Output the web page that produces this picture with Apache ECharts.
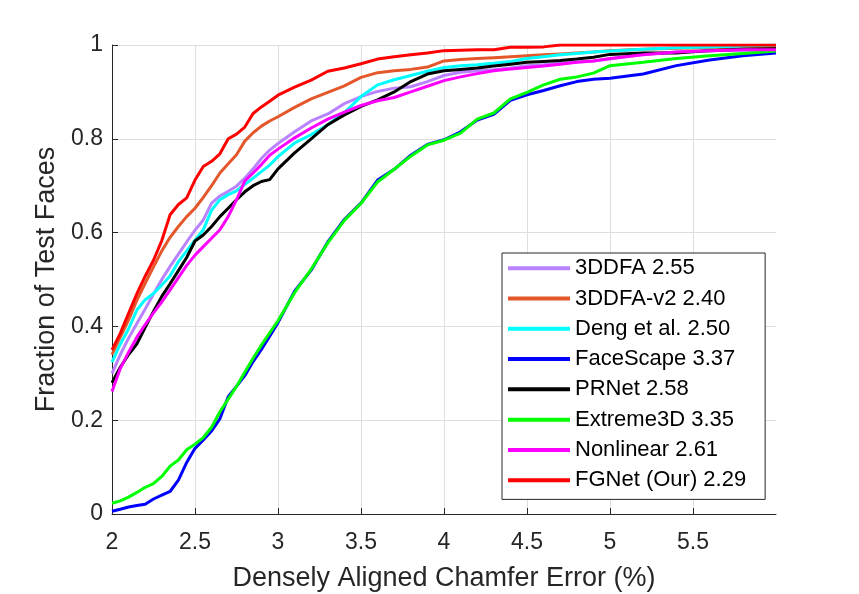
<!DOCTYPE html>
<html>
<head>
<meta charset="utf-8">
<script src="https://cdn.jsdelivr.net/npm/echarts@6/dist/echarts.min.js"></script>
<style>html,body{margin:0;padding:0;background:#fff;}#chart{width:859px;height:594px;}</style>
</head>
<body>
<div id="chart"></div>
<script>
const xs = [2.0, 2.05, 2.1, 2.15, 2.2, 2.25, 2.3, 2.35, 2.4, 2.45, 2.5, 2.55, 2.6, 2.65, 2.7, 2.75, 2.8, 2.85, 2.9, 2.95, 3.0, 3.1, 3.2, 3.3, 3.4, 3.5, 3.6, 3.7, 3.8, 3.9, 4.0, 4.1, 4.2, 4.3, 4.4, 4.5, 4.6, 4.7, 4.8, 4.9, 5.0, 5.2, 5.4, 5.6, 5.8, 6.0];

const names = ['3DDFA 2.55', '3DDFA-v2 2.40', 'Deng et al. 2.50', 'FaceScape 3.37', 'PRNet 2.58', 'Extreme3D 3.35', 'Nonlinear 2.61', 'FGNet (Our) 2.29'];
const colors = ['#b983ff', '#e4572a', '#00ffff', '#0000ff', '#000000', '#00ff00', '#ff00ff', '#ff0000'];

const y3DDFA = [0.30, 0.34, 0.375, 0.406, 0.437, 0.469, 0.50, 0.528, 0.554, 0.58, 0.605, 0.627, 0.663, 0.678, 0.688, 0.699, 0.716, 0.736, 0.758, 0.776, 0.79, 0.815, 0.838, 0.853, 0.875, 0.89, 0.901, 0.908, 0.911, 0.922, 0.935, 0.942, 0.945, 0.947, 0.951, 0.956, 0.958, 0.961, 0.964, 0.966, 0.97, 0.98, 0.985, 0.988, 0.989, 0.99];
const y3DDFAv2 = [0.34, 0.377, 0.414, 0.456, 0.492, 0.527, 0.561, 0.59, 0.613, 0.634, 0.652, 0.675, 0.70, 0.727, 0.747, 0.766, 0.795, 0.813, 0.827, 0.838, 0.847, 0.867, 0.885, 0.899, 0.913, 0.931, 0.941, 0.945, 0.948, 0.953, 0.966, 0.969, 0.971, 0.973, 0.975, 0.977, 0.979, 0.981, 0.983, 0.985, 0.988, 0.991, 0.993, 0.994, 0.995, 0.996];
const yDeng = [0.324, 0.362, 0.395, 0.435, 0.457, 0.47, 0.488, 0.508, 0.538, 0.561, 0.584, 0.606, 0.648, 0.67, 0.681, 0.689, 0.703, 0.716, 0.73, 0.744, 0.762, 0.791, 0.809, 0.83, 0.856, 0.89, 0.915, 0.926, 0.935, 0.944, 0.952, 0.956, 0.958, 0.961, 0.965, 0.971, 0.975, 0.979, 0.982, 0.985, 0.987, 0.991, 0.994, 0.996, 0.998, 1.0];
const yFaceScape = [0.006, 0.01, 0.015, 0.018, 0.021, 0.032, 0.04, 0.048, 0.072, 0.11, 0.14, 0.158, 0.177, 0.203, 0.25, 0.272, 0.295, 0.325, 0.351, 0.379, 0.408, 0.475, 0.52, 0.58, 0.628, 0.663, 0.712, 0.735, 0.765, 0.788, 0.798, 0.815, 0.84, 0.852, 0.882, 0.894, 0.903, 0.913, 0.922, 0.927, 0.929, 0.938, 0.956, 0.968, 0.977, 0.983];
const yPRNet = [0.28, 0.313, 0.34, 0.363, 0.398, 0.432, 0.464, 0.491, 0.519, 0.547, 0.582, 0.595, 0.613, 0.634, 0.652, 0.67, 0.687, 0.70, 0.709, 0.713, 0.736, 0.77, 0.80, 0.83, 0.851, 0.869, 0.883, 0.90, 0.922, 0.938, 0.945, 0.948, 0.951, 0.955, 0.959, 0.963, 0.965, 0.967, 0.97, 0.974, 0.98, 0.983, 0.983, 0.988, 0.991, 0.992];
const yExtreme3D = [0.023, 0.028, 0.036, 0.046, 0.057, 0.065, 0.08, 0.102, 0.115, 0.137, 0.149, 0.163, 0.185, 0.218, 0.245, 0.272, 0.302, 0.332, 0.36, 0.386, 0.412, 0.472, 0.522, 0.578, 0.626, 0.662, 0.708, 0.735, 0.763, 0.787, 0.797, 0.812, 0.842, 0.855, 0.885, 0.899, 0.915, 0.927, 0.932, 0.94, 0.956, 0.963, 0.971, 0.977, 0.982, 0.987];
const yNonlinear = [0.261, 0.31, 0.345, 0.377, 0.404, 0.429, 0.452, 0.478, 0.504, 0.53, 0.552, 0.57, 0.588, 0.606, 0.634, 0.67, 0.71, 0.727, 0.745, 0.765, 0.778, 0.802, 0.823, 0.842, 0.857, 0.871, 0.881, 0.888, 0.90, 0.912, 0.924, 0.932, 0.939, 0.945, 0.949, 0.952, 0.955, 0.959, 0.963, 0.966, 0.971, 0.979, 0.985, 0.988, 0.99, 0.99];
const yFGNet = [0.35, 0.385, 0.428, 0.47, 0.507, 0.541, 0.583, 0.638, 0.66, 0.674, 0.712, 0.741, 0.752, 0.768, 0.80, 0.81, 0.825, 0.854, 0.868, 0.88, 0.893, 0.91, 0.925, 0.944, 0.951, 0.96, 0.97, 0.975, 0.979, 0.983, 0.988, 0.989, 0.99, 0.99, 0.995, 0.995, 0.996, 1.0, 1.0, 1.0, 1.0, 1.0, 1.0, 1.0, 1.0, 1.0];

const allY = [y3DDFA, y3DDFAv2, yDeng, yFaceScape, yPRNet, yExtreme3D, yNonlinear, yFGNet];

const FONT = '"Liberation Sans", Arial, Helvetica, sans-serif';
const TXT = '#262626';

const chart = echarts.init(document.getElementById('chart'), null, {renderer: 'canvas'});
const series = names.map((n, i) => ({
  name: n,
  type: 'line',
  data: xs.map((x, j) => [x, allY[i][j]]),
  showSymbol: false,
  symbol: 'none',
  lineStyle: {width: 3, color: colors[i]},
  itemStyle: {color: colors[i]},
  emphasis: {disabled: true},
  animation: false,
  z: 2 + i
}));

chart.setOption({
  animation: false,
  backgroundColor: '#ffffff',
  grid: {left: 112, right: 83, top: 45, bottom: 80, outerBoundsMode: 'none', containLabel: false},
  legend: {
    orient: 'vertical',
    left: 502,
    top: 253,
    data: names,
    icon: 'rect',
    itemWidth: 62,
    itemHeight: 4,
    itemGap: 8,
    padding: [4, 19, 8, 6],
    borderColor: '#262626',
    borderWidth: 1,
    backgroundColor: '#ffffff',
    textStyle: {fontFamily: FONT, fontSize: 22, color: '#000', lineHeight: 22.3},
    selectedMode: false
  },
  xAxis: {
    type: 'value',
    min: 2, max: 6, interval: 0.5,
    name: 'Densely Aligned Chamfer Error (%)',
    nameLocation: 'middle',
    nameGap: 51,
    nameTextStyle: {fontFamily: FONT, fontSize: 27, color: TXT},
    axisLine: {show: true, lineStyle: {color: TXT, width: 1}},
    axisTick: {show: true, inside: true, length: 6, lineStyle: {color: TXT}},
    axisLabel: {fontFamily: FONT, fontSize: 23, color: TXT, margin: 17, showMaxLabel: false},
    splitLine: {show: true, showMaxLine: false, lineStyle: {color: '#dedede', width: 1}}
  },
  yAxis: {
    type: 'value',
    min: 0, max: 1, interval: 0.2,
    name: 'Fraction of Test Faces',
    nameLocation: 'middle',
    nameGap: 48,
    nameTextStyle: {fontFamily: FONT, fontSize: 27, color: TXT},
    axisLine: {show: true, lineStyle: {color: TXT, width: 1}},
    axisTick: {show: true, inside: true, length: 6, lineStyle: {color: TXT}},
    axisLabel: {fontFamily: FONT, fontSize: 23, color: TXT, margin: 9},
    splitLine: {show: true, lineStyle: {color: '#dedede', width: 1}}
  },
  series: series
});
</script>
</body>
</html>
